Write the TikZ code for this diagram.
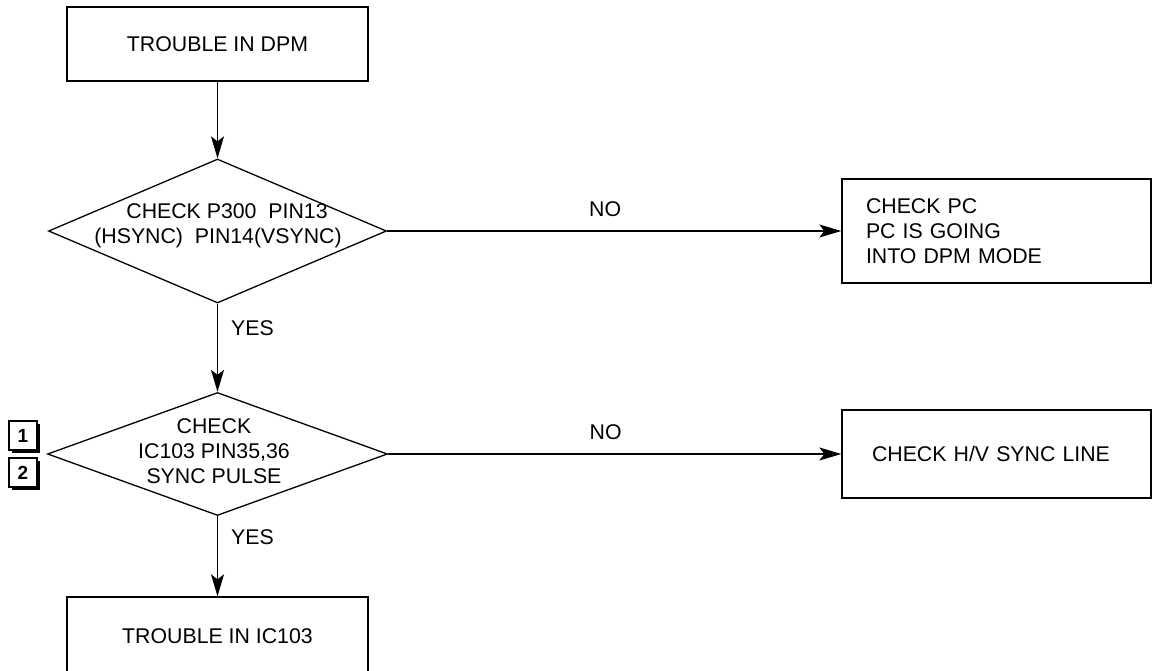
\documentclass[tikz,border=0pt]{standalone}
\usepackage{fontspec}
\setmainfont{Liberation Sans}
\usetikzlibrary{shapes.geometric,arrows.meta,shadows}
\begin{document}
\begin{tikzpicture}[x=1pt,y=-1pt,
  every node/.style={font=\fontsize{21.3}{25}\selectfont, text=black},
  line/.style={draw=black, line width=1.3pt},
  box/.style={line, rectangle, inner sep=0pt},
  dia/.style={line, diamond, inner sep=0pt},
  arr/.style={line, -{Stealth[length=22pt,width=13pt,inset=5pt]}},
  tag/.style={line, rectangle, fill=white, minimum width=28pt, minimum height=29pt, inner sep=0pt,
     font=\fontsize{19}{22}\selectfont\bfseries,
     drop shadow={shadow xshift=3pt, shadow yshift=-3pt, fill=black, opacity=1}},
  lbl/.style={inner sep=0pt}
]
\useasboundingbox (0,0) rectangle (1152,670);

\node[box, minimum width=301pt, minimum height=74pt] (start) at (217.5,44) {TROUBLE IN DPM};

\node[dia, minimum width=338pt, minimum height=144pt] (d1) at (217.5,231) {};
\node[lbl, align=center] (d1t) at (218,226) {\hspace*{18pt}CHECK P300~~PIN13\\(HSYNC)~~PIN14(VSYNC)};

\node[box, align=left, text width=261pt, inner xsep=24pt, minimum height=104pt] (r1) at (996.5,231)
  {CHECK PC\\PC IS GOING\\INTO DPM MODE};

\node[dia, minimum width=340pt, minimum height=123pt] (d2) at (217.5,454) {};
\node[lbl, align=center] (d2t) at (214,451) {CHECK\\IC103 PIN35,36\\SYNC PULSE};

\node[box, align=left, text width=249pt, inner xsep=30pt, minimum height=88pt] (r2) at (996.5,454)
  {CHECK H/V SYNC LINE};

\node[box, minimum width=301pt, minimum height=92pt] (end) at (217.5,643) {\raisebox{13pt}{TROUBLE IN IC103}};

\node[tag] (t1) at (23,435.5) {1};
\node[tag] (t2) at (23,472.5) {2};

\draw[arr] (start.south) -- (d1.north);
\draw[arr] (d1.east) -- node[lbl, pos=0.48, yshift=22pt] (no1) {NO} (r1.west);
\draw[arr] (d1.south) -- node[lbl, pos=0.28, xshift=35pt] (yes1) {YES} (d2.north);
\draw[arr] (d2.east) -- node[lbl, pos=0.48, yshift=22pt] (no2) {NO} (r2.west);
\draw[arr] (d2.south) -- node[lbl, pos=0.26, xshift=35pt] (yes2) {YES} (end.north);
\end{tikzpicture}
\end{document}
